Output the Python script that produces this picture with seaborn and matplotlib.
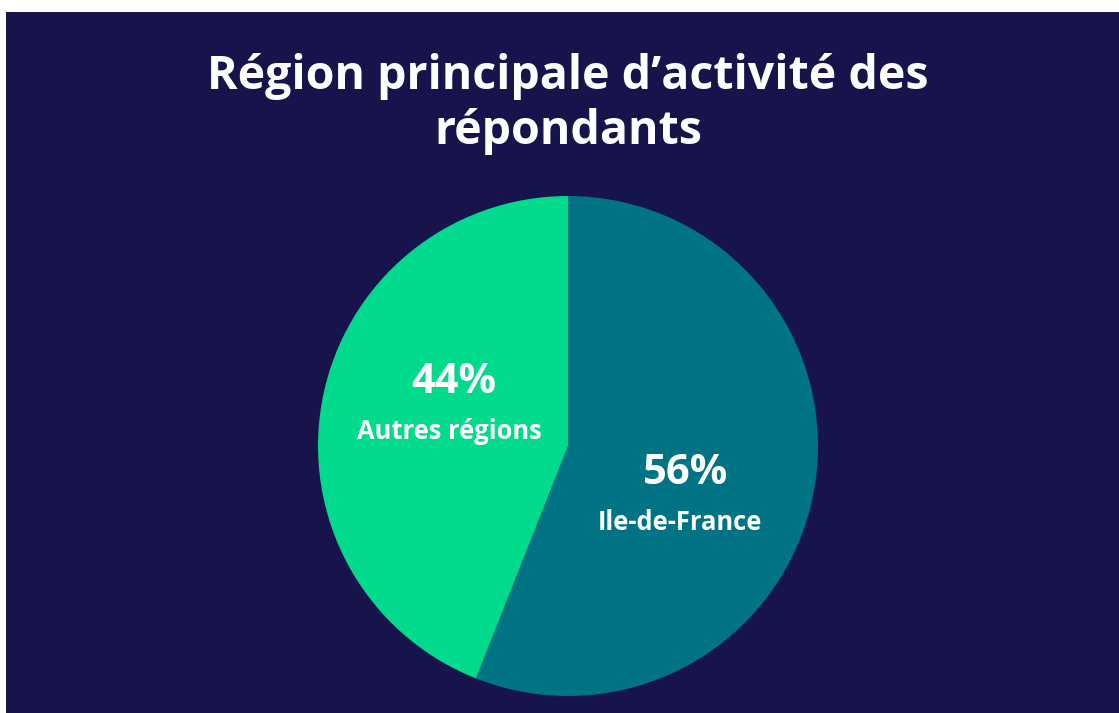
import matplotlib
matplotlib.use("Agg")
import matplotlib.pyplot as plt
import seaborn as sns
import numpy as np
from matplotlib.patches import Rectangle

# Data
categories = ["Ile-de-France", "Autres régions"]
values = [56, 44]
pct_labels = ["56%", "44%"]

title = "Région principale d’activité des\nrépondants"

BG = "#16144B"
colors = ["#007385", "#00DA8C"]

sns.set_theme(style="white")
plt.rcParams['font.family'] = ['Open Sans', 'DejaVu Sans']

fig = plt.figure(figsize=(11.19, 7.13), dpi=100, facecolor="white")
fig.patches.append(Rectangle((6 / 1119, 0), 1 - 6 / 1119, 1 - 12 / 713,
                             transform=fig.transFigure, facecolor=BG,
                             edgecolor="none", zorder=-10))

# pie axes: center (568, 446), radius 250 px
cx, cy, r = 568, 446, 250
ax = fig.add_axes([(cx - r) / 1119, (713 - cy - r) / 713, 2 * r / 1119, 2 * r / 713])
ax.set_facecolor("none")
wedges, _ = ax.pie(values, colors=colors, startangle=90, counterclock=False,
                   radius=1.0, wedgeprops=dict(linewidth=0))
ax.set_xlim(-1, 1)
ax.set_ylim(-1, 1)
ax.set_aspect("equal")
ax.axis("off")

# label placement (angle in degrees, distance)
label_pos = [(-23, 0.51), (160, 0.485)]
for (ang, dist), pct, cat in zip(label_pos, pct_labels, categories):
    x = dist * np.cos(np.radians(ang))
    y = dist * np.sin(np.radians(ang)) - 0.012
    ax.text(x, y + 0.10, pct, ha="center", va="center", color="white",
            fontsize=30, fontweight="bold")
    ax.text(x - 0.02, y - 0.095, cat, ha="center", va="center", color="white",
            fontsize=18.4, fontweight="bold")

fig.text(568 / 1119, 1 - 104 / 713, title, ha="center", va="center",
         color="white", fontsize=33.5, fontweight="bold", linespacing=1.22)

fig.savefig("out.png", dpi=100, facecolor="white")
